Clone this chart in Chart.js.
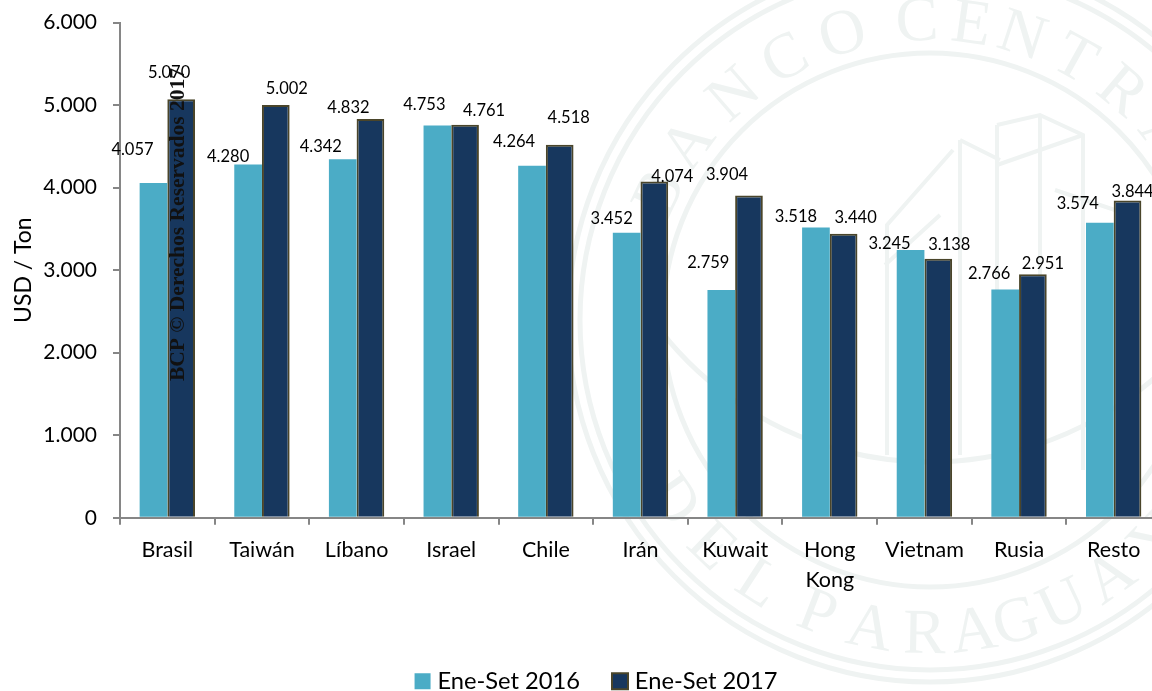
<!DOCTYPE html>
<html>
<head>
<meta charset="utf-8">
<script src="https://cdn.jsdelivr.net/npm/chart.js@4"></script>
<style>
    html, body { margin: 0; padding: 0; background: #fff; overflow: hidden; width: 1152px; height: 691px; }
    canvas { display: block; }
</style>
</head>
<body>
<canvas id="priceChart" width="1161" height="691"></canvas>
<script>
const categories = ['Brasil', 'Taiwán', 'Líbano', 'Israel', 'Chile', 'Irán', 'Kuwait', ['Hong', 'Kong'], 'Vietnam', 'Rusia', 'Resto'];
const values2016 = [4057, 4280, 4342, 4753, 4264, 3452, 2759, 3518, 3245, 2766, 3574];
const values2017 = [5070, 5002, 4832, 4761, 4518, 4074, 3904, 3440, 3138, 2951, 3844];
const yTicks = [0, 1000, 2000, 3000, 4000, 5000, 6000];

// hand placed labels in the original, offset from the top centre of each bar
const labelShift2016 = [[-21, -33], [-20, -8], [-22, -13], [-13, -21], [-18, -24], [-15, -14], [-13, -27], [-20, -11], [-21, -6], [-16, -16], [-22, -19]];
const labelShift2017 = [[-12, -27], [11, -16], [-22, -11], [19, -14], [9, -27], [18, -5], [-22, -21], [12, -16], [11, -14], [10, -11], [5, -9]];

// seal lettering, angle of each letter in degrees
const sealTop = [['B', -65], ['A', -54], ['N', -41], ['C', -29], ['O', -17], ['C', -2.5], ['E', 8], ['N', 18], ['T', 29], ['R', 40], ['A', 52], ['L', 63]];
const sealBottom = [['D', -55], ['E', -44], ['L', -33], ['P', -21], ['A', -11], ['R', -1], ['A', 8], ['G', 16], ['U', 25], ['A', 35], ['Y', 46]];

const FONT = 'Lato, "Noto Sans", sans-serif';
const AXIS_COLOR = '#868686';
const MARK_COLOR = '#eff3f2';

function formatThousands(v) {
    return v === 0 ? '0' : String(v).replace(/\B(?=(\d{3})+$)/g, '.');
}

function arcText(ctx, cx, cy, r, letters, flipped) {
    letters.forEach(([ch, deg]) => {
        const a = deg * Math.PI / 180;
        ctx.save();
        if (flipped) {
            ctx.translate(cx + r * Math.sin(a), cy + r * Math.cos(a));
            ctx.rotate(-a);
        } else {
            ctx.translate(cx + r * Math.sin(a), cy - r * Math.cos(a));
            ctx.rotate(a);
        }
        ctx.fillText(ch, 0, 0);
        ctx.restore();
    });
}

function polyline(ctx, pts) {
    ctx.beginPath();
    pts.forEach((p, i) => i ? ctx.lineTo(p[0], p[1]) : ctx.moveTo(p[0], p[1]));
    ctx.stroke();
}

const sealPlugin = {
    id: 'seal',
    beforeDraw(chart) {
        const ctx = chart.ctx;
        const cx = 930, cy = 320;
        ctx.save();
        ctx.strokeStyle = MARK_COLOR;
        ctx.fillStyle = MARK_COLOR;
        ctx.lineWidth = 5;
        [267, 350, 362].forEach(r => {
            ctx.beginPath();
            ctx.arc(cx, cy, r, 0, Math.PI * 2);
            ctx.stroke();
        });
        ctx.font = '64px "Liberation Serif", serif';
        ctx.textAlign = 'center';
        ctx.textBaseline = 'alphabetic';
        arcText(ctx, cx, cy, 280, sealTop, false);
        arcText(ctx, cx, cy, 333, sealBottom, true);

        // building behind the bars
        ctx.lineWidth = 4;
        polyline(ctx, [[997, 125], [1040, 115], [1083, 135], [1083, 470]]);
        polyline(ctx, [[997, 125], [997, 470]]);
        polyline(ctx, [[997, 165], [1040, 150], [1083, 135]]);
        polyline(ctx, [[1040, 115], [1040, 470]]);
        polyline(ctx, [[960, 140], [1000, 160]]);
        polyline(ctx, [[960, 140], [960, 455]]);
        polyline(ctx, [[953, 150], [887, 225], [887, 455]]);
        polyline(ctx, [[940, 215], [885, 265]]);
        polyline(ctx, [[1055, 190], [1130, 215], [1130, 470]]);
        ctx.lineWidth = 5;
        ctx.beginPath();
        ctx.arc(cx, 120, 342, Math.PI * 0.2, Math.PI * 0.8);
        ctx.stroke();
        ctx.restore();
    }
};

const labelPlugin = {
    id: 'barLabels',
    afterLayout(chart) {
        // legend sits off centre and lower in the original
        chart.legend.left += 18;
        chart.legend.right += 18;
        chart.legend.top += 12;
        chart.legend.bottom += 12;
    },
    afterDatasetsDraw(chart) {
        const ctx = chart.ctx;
        const shifts = [labelShift2016, labelShift2017];
        ctx.save();
        ctx.font = '16.5px ' + FONT;
        ctx.fillStyle = '#000';
        ctx.textAlign = 'center';
        ctx.textBaseline = 'middle';
        chart.data.datasets.forEach((ds, d) => {
            chart.getDatasetMeta(d).data.forEach((bar, i) => {
                ctx.fillText(formatThousands(ds.data[i]), bar.x + shifts[d][i][0], bar.y + shifts[d][i][1]);
            });
        });
        // copyright stamp
        ctx.translate(178, 381);
        ctx.rotate(-Math.PI / 2);
        ctx.font = 'bold 21.5px "Liberation Serif", serif';
        ctx.textAlign = 'left';
        ctx.fillStyle = '#111';
        ctx.fillText('BCP © Derechos Reservados 2017', 0, 0);
        ctx.restore();
    }
};

new Chart(document.getElementById('priceChart').getContext('2d'), {
    type: 'bar',
    data: {
        labels: categories,
        datasets: [
            { label: 'Ene-Set 2016', data: values2016, backgroundColor: '#4BACC6', borderWidth: 0 },
            { label: 'Ene-Set 2017', data: values2017, backgroundColor: '#17375E', borderColor: '#4A452A', borderWidth: 2 }
        ]
    },
    options: {
        responsive: false,
        animation: false,
        barPercentage: 1,
        categoryPercentage: 0.585,
        layout: { padding: { top: 22.5, left: 0, right: 0, bottom: 0 } },
        scales: {
            x: {
                afterFit(scale) { scale.height = 102.5; },
                border: { color: AXIS_COLOR, width: 2 },
                grid: { drawOnChartArea: false, color: AXIS_COLOR, lineWidth: 2, tickLength: 7, offset: true },
                ticks: { color: '#000', font: { family: FONT, size: 21.5, lineHeight: 1.38 }, padding: 10.5, maxRotation: 0, autoSkip: false }
            },
            y: {
                min: 0,
                max: 6000,
                afterFit(scale) { scale.width = 120; scale.paddingTop = 0; scale.paddingBottom = 0; },
                afterBuildTicks(scale) { scale.ticks = yTicks.map(v => ({ value: v })); },
                border: { color: AXIS_COLOR, width: 2 },
                grid: { drawOnChartArea: false, color: AXIS_COLOR, lineWidth: 2, tickLength: 7 },
                ticks: { color: '#000', font: { family: FONT, size: 21 }, padding: 16, callback: v => formatThousands(v) },
                title: { display: true, text: 'USD / Ton', color: '#000', font: { family: FONT, size: 23 }, padding: { top: 10, bottom: 0 } }
            }
        },
        plugins: {
            tooltip: { enabled: false },
            legend: {
                position: 'bottom',
                labels: {
                    color: '#000',
                    font: { family: FONT, size: 23.7 },
                    usePointStyle: true,
                    pointStyle: 'rect',
                    boxWidth: 6,
                    boxHeight: 16,
                    padding: 37
                }
            }
        }
    },
    plugins: [sealPlugin, labelPlugin]
});
</script>
</body>
</html>
